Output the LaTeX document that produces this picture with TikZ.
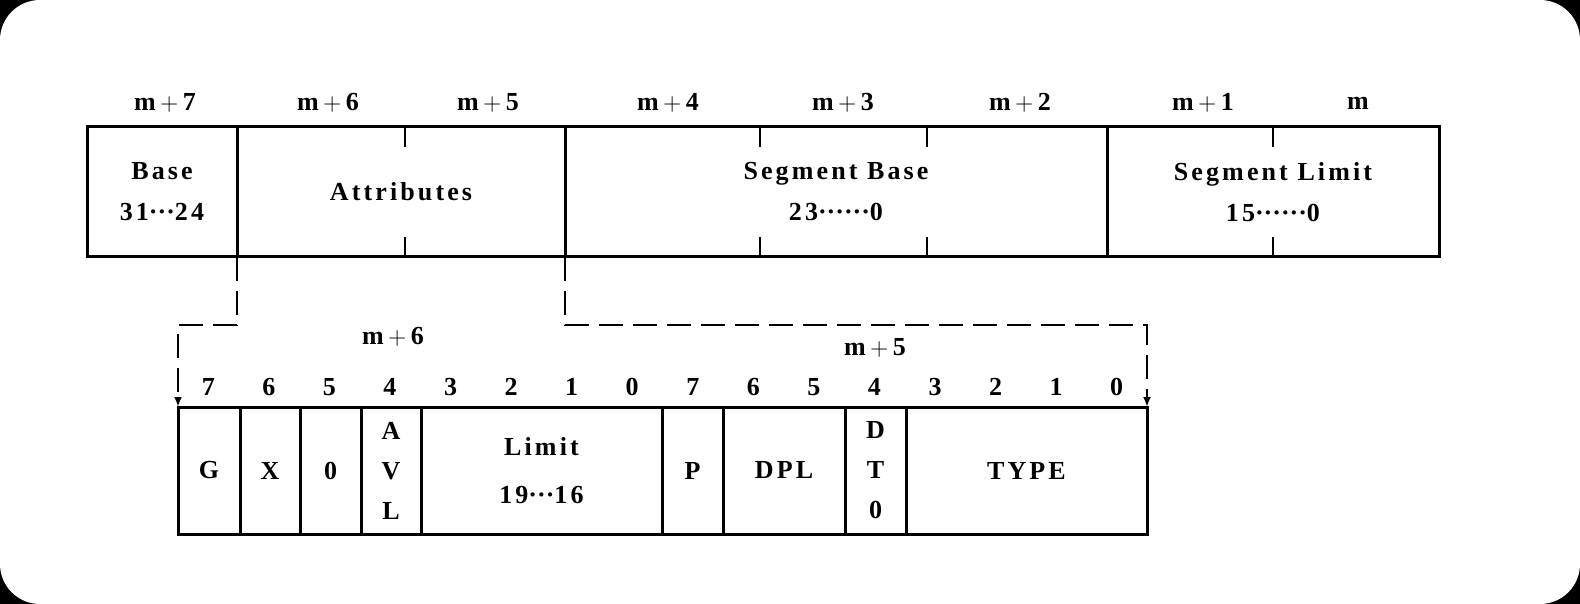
\documentclass[tikz,border=0pt]{standalone}
\usepackage{fontspec}
\setmainfont{Liberation Serif}[LetterSpace=12]
\usetikzlibrary{arrows.meta}
\newcommand{\dotsrun}[1]{{\addfontfeature{LetterSpace=0}#1}}
\newcommand{\mplus}{\,$+$\,}
\begin{document}
\begin{tikzpicture}[x=0.5pt,y=-0.5pt,
  every node/.style={font=\fontsize{13}{20.5}\selectfont\bfseries},
  cell/.style={draw, line width=1.5pt, inner sep=0pt, outer sep=0pt, align=center},
  lbl/.style={inner sep=0pt},
  tickmark/.style={line width=1.1pt},
  link/.style={line width=1.4pt, dash pattern=on 12pt off 5pt, -{Latex[length=5pt,width=4pt]}}]
% background
\fill[black] (0,0) rectangle (1580,604);
\fill[white, rounded corners=20pt] (0,0) rectangle (1580,604);
\useasboundingbox (0,0) rectangle (1580,604);

% top row
\node[cell, minimum width=75pt, minimum height=65pt] (base) at (162,192) {Base\\31\dotsrun{···}24};
\node[cell, minimum width=164pt, minimum height=65pt] (attr) at (401,192) {Attributes};
\node[cell, minimum width=271pt, minimum height=65pt] (segbase) at (836,192) {Segment Base\\23\dotsrun{······}0};
\node[cell, minimum width=166pt, minimum height=65pt] (seglim) at (1273,192) {Segment Limit\\15\dotsrun{······}0};

% ticks
\foreach \x in {405,760,927,1273} {
  \draw[tickmark] (\x,127) -- (\x,147);
  \draw[tickmark] (\x,257) -- (\x,237);
}

% byte labels
\node[lbl] (lm7) at (165,103) {m\mplus7};
\node[lbl] (lm6) at (328,103) {m\mplus6};
\node[lbl] (lm5) at (488,103) {m\mplus5};
\node[lbl] (lm4) at (668,103) {m\mplus4};
\node[lbl] (lm3) at (843,103) {m\mplus3};
\node[lbl] (lm2) at (1020,103) {m\mplus2};
\node[lbl] (lm1) at (1203,103) {m\mplus1};
\node[lbl] (lm0) at (1358,103) {m};

% bottom row
\node[cell, minimum width=31pt, minimum height=63.5pt] (g) at (209,470.5) {G};
\node[cell, minimum width=30pt, minimum height=63.5pt] (x) at (270,470.5) {X};
\node[cell, minimum width=30.5pt, minimum height=63.5pt] (zero) at (330.5,470.5) {0};
\node[cell, minimum width=30pt, minimum height=63.5pt, font=\fontsize{13}{20}\selectfont\bfseries] (avl) at (391,470.5) {A\\V\\L};
\node[cell, minimum width=120.5pt, minimum height=63.5pt] (limit) at (541.5,470.5) {Limit\\[3.5pt]19\dotsrun{···}16};
\node[cell, minimum width=30.5pt, minimum height=63.5pt] (p) at (692.5,470.5) {P};
\node[cell, minimum width=61pt, minimum height=63.5pt] (dpl) at (784,470.5) {DPL};
\node[cell, minimum width=30.5pt, minimum height=63.5pt, font=\fontsize{13}{20}\selectfont\bfseries] (dt) at (875.5,470.5) {D\\T\\0};
\node[cell, minimum width=120.5pt, minimum height=63.5pt] (type) at (1026.5,470.5) {TYPE};

% bit labels
\foreach \j/\b in {0/7,1/6,2/5,3/4,4/3,5/2,6/1,7/0,8/7,9/6,10/5,11/4,12/3,13/2,14/1,15/0}
  \node[lbl] (bit\j) at ({178+60.56*(\j+0.5)},387) {\b};

\node[lbl] (bm6) at (393,337) {m\mplus6};
\node[lbl] (bm5) at (875,348) {m\mplus5};

% dashed connectors
\draw[link] (base.south east) -- ++(0,68) -| (g.north west);
\draw[link] (attr.south east) -- ++(0,68) -| (type.north east);
\end{tikzpicture}
\end{document}
